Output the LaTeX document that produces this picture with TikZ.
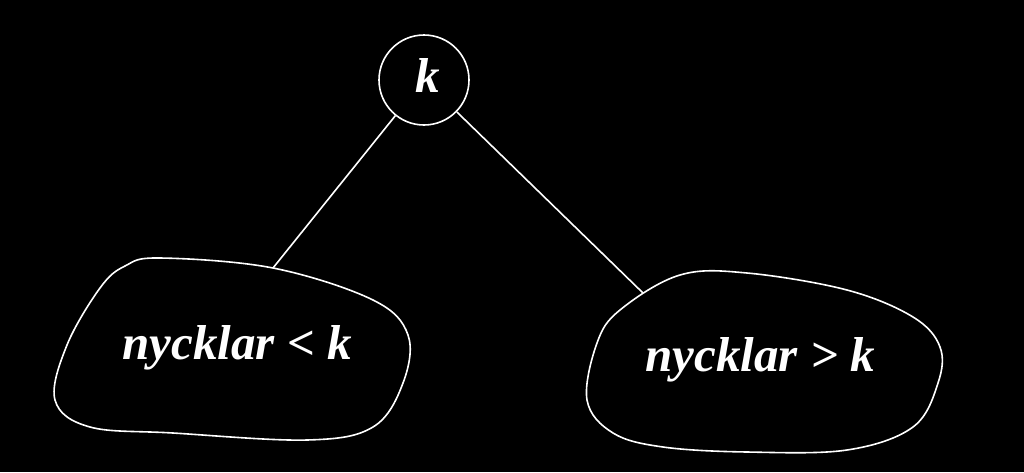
\documentclass[tikz,border=0pt]{standalone}
\usepackage{fontspec}
\setmainfont{Liberation Serif}
\begin{document}
\begin{tikzpicture}[x=1pt,y=-1pt,
  wline/.style={draw=white,line width=1.6pt},
  lbl/.style={text=white,font=\fontsize{49}{52}\selectfont\bfseries\itshape,inner sep=0pt,anchor=base}]
\fill[black] (0,0) rectangle (1024,472);
\useasboundingbox (0,0) rectangle (1024,472);
% root
\node[circle,wline,minimum size=90pt,inner sep=0pt] (k) at (424,80) {};
\node[lbl] (kt) at (428,92) {k};
% left blob
\draw[wline] plot[smooth cycle,tension=0.6] coordinates {
  (160,258) (273,268) (373,300) (408,335) (403,383) (373,427) (307,440)
  (173,433) (90,427) (55,400) (67,345) (100,288) (125,266)};
\coordinate (lt) at (273,268);
\node[lbl] (lttext) at (237,359) {nycklar < k};
% right blob
\draw[wline] plot[smooth cycle,tension=0.6] coordinates {
  (680,275) (747,273) (847,290) (913,317) (940,347) (938,383) (913,427)
  (847,450) (747,452) (663,447) (613,433) (587,400) (597,343) (620,310)};
\coordinate (rt) at (643,293);
\node[lbl] (rttext) at (760,371) {nycklar > k};
% connectors
\draw[wline] (k) -- (lt);
\draw[wline] (k) -- (rt);
\end{tikzpicture}
\end{document}
